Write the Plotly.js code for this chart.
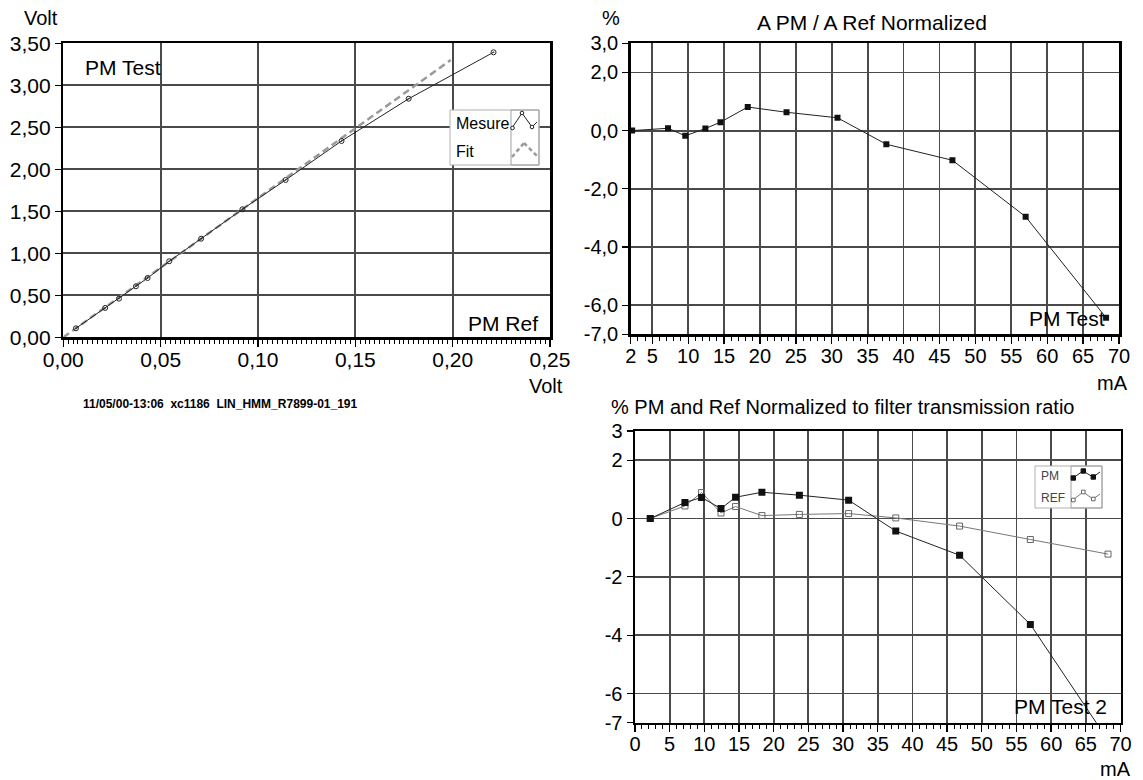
<!DOCTYPE html>
<html>
<head>
<meta charset="utf-8">
<script src="https://cdn.plot.ly/plotly-3.0.1.min.js"></script>
<style>html,body{margin:0;padding:0;background:#fff;}#chart{width:1143px;height:780px;}</style>
</head>
<body>
<div id="chart"></div>
<script>
// ---- Data ----
const mesureX = [0.0065, 0.0215, 0.0286, 0.0373, 0.0433, 0.0544, 0.0708, 0.0920, 0.1142, 0.1429, 0.1774, 0.2210];
const mesureY = [0.107, 0.350, 0.460, 0.607, 0.706, 0.905, 1.174, 1.524, 1.873, 2.337, 2.840, 3.393];
const fitX = [0, 0.199];
const fitY = [0, 3.30];

const currentMA = [2.2, 7.2, 9.6, 12.4, 14.5, 18.3, 23.7, 30.8, 37.6, 46.8, 57.0, 68.2];
const ratioPM = [0, 0.08, -0.18, 0.07, 0.29, 0.81, 0.63, 0.44, -0.47, -1.02, -2.96, -6.43];
const pmNorm = [0, 0.55, 0.72, 0.34, 0.73, 0.90, 0.80, 0.63, -0.43, -1.26, -3.63, -7.60];
const refNorm = [0, 0.43, 0.89, 0.19, 0.41, 0.10, 0.14, 0.17, 0.02, -0.26, -0.72, -1.22];

const voltTickVals = [0, 0.05, 0.10, 0.15, 0.20, 0.25];
const voltTickText = ['0,00', '0,05', '0,10', '0,15', '0,20', '0,25'];
const voltYTickVals = [0, 0.5, 1.0, 1.5, 2.0, 2.5, 3.0, 3.5];
const voltYTickText = ['0,00', '0,50', '1,00', '1,50', '2,00', '2,50', '3,00', '3,50'];
const maTickVals1 = [2, 5, 10, 15, 20, 25, 30, 35, 40, 45, 50, 55, 60, 65, 70];
const maTickText1 = ['2', '5', '10', '15', '20', '25', '30', '35', '40', '45', '50', '55', '60', '65', '70'];
const maTickVals2 = [0, 5, 10, 15, 20, 25, 30, 35, 40, 45, 50, 55, 60, 65, 70];
const maTickText2 = ['0', '5', '10', '15', '20', '25', '30', '35', '40', '45', '50', '55', '60', '65', '70'];
const pctTickVals = [-7, -6, -4, -2, 0, 2, 3];
const pctTickText1 = ['-7,0', '-6,0', '-4,0', '-2,0', '0,0', '2,0', '3,0'];
const pctTickText2 = ['-7', '-6', '-4', '-2', '0', '2', '3'];

// ---- Helpers ----
const W = 1143, H = 780;
const px = x => x / W;
const py = y => 1 - y / H;
const FONT = 'Liberation Sans, Arial, sans-serif';

function axisBase(extra) {
  return Object.assign({
    showline: true, mirror: true, linecolor: '#000', linewidth: 2.5,
    showgrid: true, gridcolor: '#4a4a4a', gridwidth: 1.8,
    zeroline: false, ticks: 'outside', ticklen: 6, tickwidth: 1.3, tickcolor: '#000',
    tickmode: 'array', tickfont: {family: FONT, size: 20, color: '#000'},
    fixedrange: true
  }, extra);
}

const traces = [
  {x: fitX, y: fitY, xaxis: 'x', yaxis: 'y', mode: 'lines', name: 'Fit',
   line: {color: '#9a9a9a', width: 2.5, dash: '7px,4px'}, hoverinfo: 'skip'},
  {x: mesureX, y: mesureY, xaxis: 'x', yaxis: 'y', mode: 'lines+markers', name: 'Mesure',
   line: {color: '#222', width: 1}, marker: {symbol: 'circle-open-dot', size: 5, color: '#222', line: {width: 1}}},
  {x: currentMA, y: ratioPM, xaxis: 'x2', yaxis: 'y2', mode: 'lines+markers', name: 'PM Test',
   line: {color: '#222', width: 1}, marker: {symbol: 'square', size: 6, color: '#111'}},
  {x: currentMA, y: refNorm, xaxis: 'x3', yaxis: 'y3', mode: 'lines+markers', name: 'REF',
   line: {color: '#777', width: 1}, marker: {symbol: 'square-open', size: 6, color: '#666', line: {width: 1}}},
  {x: currentMA, y: pmNorm, xaxis: 'x3', yaxis: 'y3', mode: 'lines+markers', name: 'PM',
   line: {color: '#222', width: 1}, marker: {symbol: 'square', size: 7, color: '#111'}}
];

function ann(text, x, y, opts) {
  return Object.assign({text: text, x: px(x), y: py(y), xref: 'paper', yref: 'paper',
    showarrow: false, xanchor: 'left', yanchor: 'middle',
    font: {family: FONT, size: 20, color: '#000'}}, opts || {});
}

const annotations = [
  ann('Volt', 22, 18),
  ann('PM Test', 83, 67, {font: {family: FONT, size: 21, color: '#000'}}),
  ann('PM Ref', 466, 323, {font: {family: FONT, size: 21, color: '#000'}}),
  ann('Volt', 527, 386),
  ann('<b>11/05/00-13:06  xc1186  LIN_HMM_R7899-01_191</b>', 81, 404, {font: {family: FONT, size: 12, color: '#000'}}),
  ann('Mesure', 454, 124, {font: {family: FONT, size: 16, color: '#000'}}),
  ann('Fit', 454, 152, {font: {family: FONT, size: 16, color: '#000'}}),
  ann('%', 600, 18),
  ann('A PM / A Ref Normalized', 872, 22, {xanchor: 'center', font: {family: FONT, size: 21, color: '#000'}}),
  ann('PM Test', 1027, 318, {font: {family: FONT, size: 21, color: '#000'}}),
  ann('mA', 1095, 383),
  ann('% PM and Ref Normalized to filter transmission ratio', 609, 407),
  ann('PM', 1039, 476, {font: {family: FONT, size: 12, color: '#444'}}),
  ann('REF', 1039, 498, {font: {family: FONT, size: 12, color: '#444'}}),
  ann('PM Test 2', 1012, 706, {font: {family: FONT, size: 21, color: '#000'}}),
  ann('mA', 1098, 769)
];

function seg(x0, y0, x1, y1, color, width, dash) {
  return {type: 'line', xref: 'paper', yref: 'paper', x0: px(x0), y0: py(y0), x1: px(x1), y1: py(y1),
    line: {color: color, width: width, dash: dash || 'solid'}};
}
function box(x0, y0, x1, y1, color, fill) {
  return {type: 'rect', xref: 'paper', yref: 'paper', x0: px(x0), y0: py(y1), x1: px(x1), y1: py(y0),
    line: {color: color, width: 1}, fillcolor: fill || 'rgba(0,0,0,0)'};
}
function dot(cx, cy, r, color, fill, type) {
  return {type: type || 'circle', xref: 'paper', yref: 'paper', x0: px(cx - r), x1: px(cx + r), y0: py(cy + r), y1: py(cy - r),
    line: {color: color, width: 1}, fillcolor: fill};
}

const shapes = [
  // left legend
  box(450, 110, 539, 165, '#b0b0b0', '#fff'),
  box(511, 110, 539, 165, '#a0a0a0'),
  seg(512, 128, 522, 113, '#222', 1), seg(522, 113, 532, 127, '#222', 1), seg(532, 127, 537, 122, '#222', 1),
  dot(512.5, 128, 1.8, '#222', '#fff'), dot(522, 113, 1.8, '#222', '#fff'), dot(532, 127, 1.8, '#222', '#fff'),
  seg(512, 157, 524, 143, '#9a9a9a', 2.5, '4px,3px'), seg(524, 143, 537, 156, '#9a9a9a', 2.5, '4px,3px'),
  // bottom-right legend
  box(1035, 466, 1102, 508, '#b0b0b0', '#fff'),
  box(1071, 466, 1102, 508, '#a0a0a0'),
  seg(1073, 478, 1083, 471, '#222', 1), seg(1083, 471, 1093, 477, '#222', 1), seg(1093, 477, 1100, 472, '#222', 1),
  dot(1073.3, 478, 2.2, '#111', '#111', 'rect'), dot(1083.3, 471, 2.2, '#111', '#111', 'rect'), dot(1093.3, 477, 2.2, '#111', '#111', 'rect'),
  seg(1073, 500, 1083, 492, '#777', 1), seg(1083, 492, 1093, 499, '#777', 1), seg(1093, 499, 1100, 494, '#777', 1),
  dot(1073.3, 500, 1.8, '#666', '#fff', 'rect'), dot(1083.3, 492, 1.8, '#666', '#fff', 'rect'), dot(1093.3, 499, 1.8, '#666', '#fff', 'rect')
];

const minorX = (dt) => ({tickmode: 'linear', tick0: 0, dtick: dt, ticks: 'outside', ticklen: 4, tickcolor: '#000', tickwidth: 1, showgrid: false});

const layout = {
  width: W, height: H,
  margin: {l: 0, r: 0, t: 0, b: 0},
  paper_bgcolor: '#fff', plot_bgcolor: '#fff',
  showlegend: false,
  separators: ',.',
  font: {family: FONT, size: 20, color: '#000'},
  xaxis: axisBase({domain: [px(63.3), px(550)], range: [0, 0.25], anchor: 'y',
    tickvals: voltTickVals, ticktext: voltTickText, ticklen: 7, ticklabelstandoff: -5,
    tickfont: {family: FONT, size: 21, color: '#000'}, minor: minorX(0.0025)}),
  yaxis: axisBase({domain: [py(337.3), py(43.3)], range: [0, 3.5], anchor: 'x',
    tickvals: voltYTickVals, ticktext: voltYTickText, tickfont: {family: FONT, size: 21, color: '#000'}}),
  xaxis2: axisBase({domain: [px(630.7), px(1119)], range: [2, 70], anchor: 'y2',
    tickvals: maTickVals1, ticktext: maTickText1, ticklen: 7, ticklabelstandoff: -5, minor: minorX(1)}),
  yaxis2: axisBase({domain: [py(334.3), py(43.3)], range: [-7, 3], anchor: 'x2',
    tickvals: pctTickVals, ticktext: pctTickText1}),
  xaxis3: axisBase({domain: [px(635), px(1120.5)], range: [0, 70], anchor: 'y3',
    tickvals: maTickVals2, ticktext: maTickText2, ticklen: 7, ticklabelstandoff: -5, minor: minorX(1)}),
  yaxis3: axisBase({domain: [py(722.7), py(431)], range: [-7, 3], anchor: 'x3',
    tickvals: pctTickVals, ticktext: pctTickText2}),
  annotations: annotations,
  shapes: shapes
};

Plotly.newPlot('chart', traces, layout, {staticPlot: true, displayModeBar: false});
</script>
</body>
</html>
